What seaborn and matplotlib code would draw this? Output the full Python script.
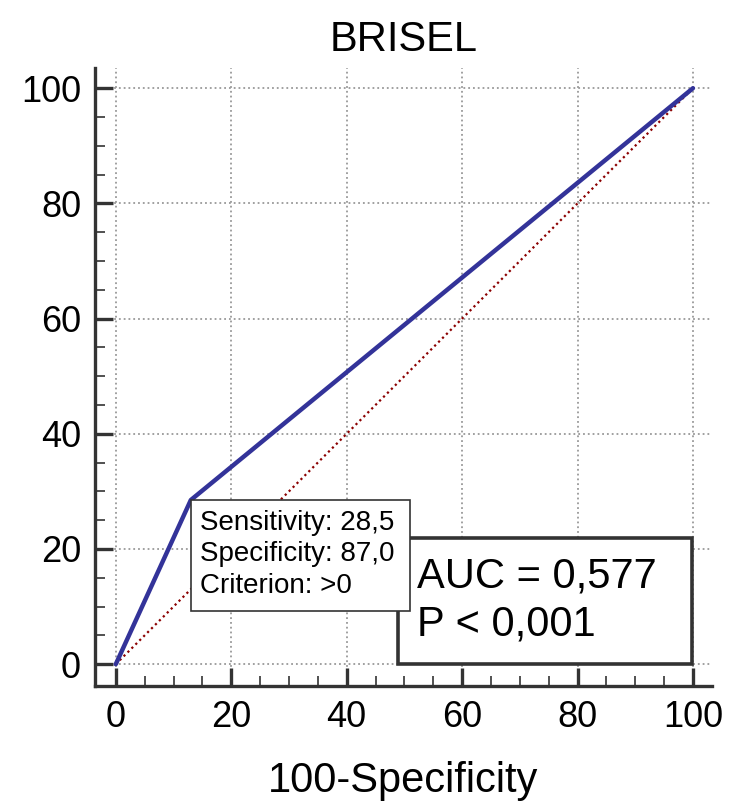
import matplotlib
matplotlib.use('Agg')
from matplotlib import pyplot as plt
from matplotlib.patches import Rectangle
from matplotlib.ticker import MultipleLocator
import seaborn as sns
import pandas as pd

# ROC curve data
fpr = [0, 13.0, 100]
tpr = [0, 28.5, 100]
diag = [0, 100]
sens, spec, crit = '28,5', '87,0', '>0'
auc_txt = 'AUC = 0,577'
p_txt = 'P < 0,001'
ticks = [0, 20, 40, 60, 80, 100]

sns.set_style('white')
plt.rcParams['font.family'] = ['Liberation Sans', 'DejaVu Sans']
plt.rcParams['text.color'] = 'black'

fig = plt.figure(figsize=(7.32, 8.1), dpi=100)
ax = fig.add_axes([0.1298, 0.153, 0.8429, 0.763])

roc = pd.DataFrame({'fpr': fpr, 'tpr': tpr})
sns.lineplot(x=diag, y=diag, ax=ax, color='#8b0000', linestyle=(0, (1, 1.5)), lw=1.6, zorder=2)
sns.lineplot(data=roc, x='fpr', y='tpr', ax=ax, color='#333399', lw=3.2, zorder=3, sort=False)

ax.set_xlim(-3.6, 103.3)
ax.set_ylim(-3.8, 103.5)
ax.set_xticks(ticks)
ax.set_yticks(ticks)
ax.xaxis.set_minor_locator(MultipleLocator(5))
ax.yaxis.set_minor_locator(MultipleLocator(5))
ax.grid(True, which='major', color='#999999', linestyle=':', lw=1.3, zorder=0)

for s in ['top', 'right']:
    ax.spines[s].set_visible(False)
for s in ['left', 'bottom']:
    ax.spines[s].set_color('#333333')
    ax.spines[s].set_linewidth(2.4)

ax.tick_params(which='major', direction='in', length=13, width=2.4, color='#333333',
               labelsize=26, labelcolor='black', pad=10, bottom=True, left=True)
ax.tick_params(which='minor', direction='in', length=7, width=1.2, color='#333333',
               bottom=True, left=True)

ax.set_title('BRISEL', fontsize=30, pad=12, color='black')
ax.set_xlabel('100-Specificity', fontsize=30, labelpad=19, color='black')
ax.set_ylabel('')

# AUC box
ax.add_patch(Rectangle((48.9, 0.1), 50.9, 21.8, fill=True, facecolor='white',
                       edgecolor='#333333', lw=2.6, zorder=4))
ax.text(52.2, 11, auc_txt + '\n' + p_txt, fontsize=30, va='center', ha='left',
        linespacing=1.25, zorder=5)

# criterion box
ax.add_patch(Rectangle((fpr[1], 9.2), 38, tpr[1] - 9.2, fill=True, facecolor='white',
                       edgecolor='#333333', lw=1.2, zorder=6))
ax.text(fpr[1] + 1.6, (tpr[1] + 9.2) / 2 + 0.2,
        'Sensitivity: ' + sens + '\nSpecificity: ' + spec + '\nCriterion: ' + crit,
        fontsize=20, va='center', ha='left', linespacing=1.28, zorder=7)

fig.savefig('out.png', dpi=100)
